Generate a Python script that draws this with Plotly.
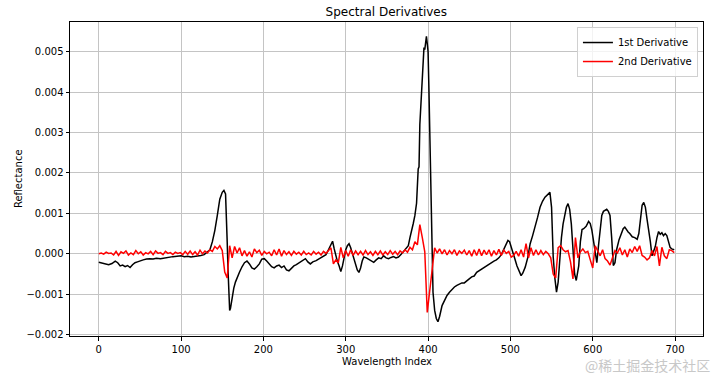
import plotly.graph_objects as go

# ---------------- data ----------------
first_idx = [0, 4, 8, 12, 16, 20, 23, 26, 29, 32, 35, 38, 41, 44, 47, 50, 54, 58, 62, 66,
             70, 75, 80, 85, 90, 95, 100, 104, 108, 112, 116, 120, 124, 128, 132, 135, 138, 141, 144, 147,
             150, 152, 154, 155, 156, 157, 158, 159, 160, 162, 164, 166, 168, 171, 174, 177, 180, 183, 186, 189,
             192, 195, 198, 201, 204, 207, 210, 213, 216, 219, 222, 225, 228, 231, 234, 237, 240, 244, 248, 251,
             254, 257, 260, 264, 268, 272, 276, 279, 282, 284, 286, 288, 290, 292, 294, 296, 298, 300, 302, 304,
             306, 308, 311, 314, 316, 318, 320, 322, 325, 328, 331, 334, 337, 340, 343, 346, 349, 352, 355, 358,
             361, 364, 367, 370, 373, 376, 378, 380, 382, 384, 386, 388, 389, 390, 392, 394, 395, 396, 397, 398,
             399, 400, 401, 402, 403, 404, 405, 406, 408, 410, 412, 414, 417, 420, 423, 426, 429, 432, 435, 438,
             441, 444, 447, 450, 453, 456, 459, 462, 465, 468, 471, 474, 477, 480, 483, 486, 489, 492, 495, 497,
             499, 501, 503, 505, 508, 511, 513, 515, 518, 521, 524, 527, 530, 533, 536, 539, 542, 545, 548, 550,
             551, 552, 554, 556, 558, 560, 562, 564, 566, 568, 570, 572, 574, 576, 578, 580, 581, 583, 585, 587,
             589, 592, 595, 597, 599, 601, 603, 605, 607, 609, 611, 613, 615, 617, 619, 621, 623, 625, 627, 629,
             632, 635, 637, 639, 641, 643, 645, 648, 651, 654, 656, 658, 660, 662, 664, 666, 668, 670, 672, 674,
             676, 678, 680, 682, 684, 686, 688, 690, 692, 694, 696, 699]
first_deriv = [-0.00021, -0.00023, -0.00025, -0.00027, -0.00024, -0.00018, -0.00022, -0.00030, -0.00028, -0.00032,
               -0.00029, -0.00034, -0.00027, -0.00022, -0.00020, -0.00017, -0.00015, -0.00013, -0.00012, -0.00013,
               -0.00011, -0.00012, -0.00010, -0.00009, -0.00007, -0.00006, -0.00005, -0.00007, -0.00006, -0.00008,
               -0.00007, -0.00006, -0.00004, -0.00002, 0.00004, 0.00010, 0.00030, 0.00058, 0.00095, 0.00135,
               0.00152, 0.00157, 0.00148, 0.00100, 0.00030, -0.00040, -0.00100, -0.00140, -0.00135, -0.00105,
               -0.00085, -0.00070, -0.00058, -0.00045, -0.00032, -0.00022, -0.00018, -0.00025, -0.00035, -0.00038,
               -0.00032, -0.00025, -0.00013, -0.00012, -0.00018, -0.00024, -0.00032, -0.00035, -0.00030, -0.00028,
               -0.00034, -0.00030, -0.00040, -0.00042, -0.00036, -0.00030, -0.00027, -0.00022, -0.00015, -0.00012,
               -0.00020, -0.00025, -0.00020, -0.00017, -0.00012, -0.00007, -0.00002, 0.00010, 0.00025, 0.00031,
               0.00012, -0.00008, -0.00020, -0.00030, -0.00044, -0.00030, -0.00008, 0.00010, 0.00020, 0.00025,
               0.00015, 0.00000, -0.00020, -0.00040, -0.00046, -0.00035, -0.00018, -0.00008, -0.00010, -0.00013,
               -0.00018, -0.00021, -0.00015, -0.00010, -0.00012, -0.00005, -0.00010, -0.00012, -0.00009, -0.00007,
               -0.00010, -0.00008, -0.00002, 0.00006, 0.00012, 0.00020, 0.00040, 0.00055, 0.00075, 0.00095,
               0.00125, 0.00210, 0.00215, 0.00320, 0.00410, 0.00470, 0.00510, 0.00505, 0.00520, 0.00538,
               0.00520, 0.00500, 0.00410, 0.00320, 0.00180, 0.00070, -0.00020, -0.00095, -0.00140, -0.00160,
               -0.00168, -0.00155, -0.00128, -0.00115, -0.00103, -0.00095, -0.00088, -0.00082, -0.00078, -0.00075,
               -0.00072, -0.00072, -0.00066, -0.00062, -0.00057, -0.00055, -0.00046, -0.00042, -0.00037, -0.00032,
               -0.00028, -0.00025, -0.00022, -0.00018, -0.00015, -0.00010, -0.00002, 0.00010, 0.00025, 0.00033,
               0.00030, 0.00018, 0.00005, -0.00010, -0.00030, -0.00045, -0.00054, -0.00048, -0.00033, -0.00010,
               0.00025, 0.00045, 0.00066, 0.00090, 0.00115, 0.00130, 0.00140, 0.00145, 0.00152, 0.00115,
               0.00060, -0.00008, -0.00060, -0.00095, -0.00070, -0.00008, 0.00040, 0.00074, 0.00100, 0.00115,
               0.00124, 0.00110, 0.00074, 0.00020, -0.00050, -0.00066, -0.00050, -0.00030, 0.00030, 0.00060,
               0.00062, 0.00068, 0.00080, 0.00075, 0.00058, 0.00030, 0.00000, -0.00022, 0.00020, 0.00060,
               0.00095, 0.00105, 0.00108, 0.00110, 0.00105, 0.00095, 0.00040, -0.00029, -0.00022, 0.00010,
               0.00035, 0.00050, 0.00062, 0.00066, 0.00058, 0.00054, 0.00050, 0.00042, 0.00040, 0.00036,
               0.00050, 0.00090, 0.00120, 0.00127, 0.00115, 0.00085, 0.00060, 0.00030, -0.00005, 0.00005,
               0.00018, 0.00040, 0.00055, 0.00048, 0.00052, 0.00045, 0.00050, 0.00045, 0.00030, 0.00016,
               0.00012, 0.00010]

second_idx = list(range(0, 700, 3))
second_deriv = [
    0.00000, 0.00002, -0.00001, 0.00004, 0.00001, 0.00002, -0.00003, 0.00006, -0.00004, 0.00005,
    0.00001, 0.00007, -0.00003, 0.00002, -0.00002, 0.00008, 0.00000, 0.00005, -0.00003, 0.00003,
    0.00000, 0.00006, -0.00002, 0.00007, 0.00001, 0.00003, -0.00002, 0.00006, 0.00001, 0.00003,
    -0.00002, 0.00004, 0.00001, 0.00003, -0.00002, 0.00006, -0.00001, 0.00007, -0.00002, 0.00005,
    -0.00003, 0.00009, 0.00000, 0.00007, 0.00002, 0.00010, 0.00006, 0.00018, 0.00012, 0.00020,
    0.00008, -0.00045, -0.00060, 0.00020, -0.00010, 0.00018, 0.00002, 0.00015, -0.00005, 0.00008,
    -0.00006, 0.00005, -0.00008, 0.00012, 0.00003, 0.00009, -0.00004, 0.00006, 0.00000, 0.00004,
    -0.00005, 0.00010, -0.00003, 0.00012, -0.00006, 0.00008, -0.00002, 0.00005, -0.00004, 0.00006,
    -0.00001, 0.00004, -0.00003, 0.00006, -0.00002, 0.00002, -0.00003, 0.00006, -0.00001, 0.00004,
    -0.00003, 0.00006, 0.00001, 0.00008, 0.00015, -0.00025, -0.00015, -0.00022, 0.00016, -0.00010,
    0.00008, -0.00006, 0.00010, -0.00004, 0.00007, -0.00002, 0.00006, -0.00003, 0.00008, -0.00002,
    0.00005, -0.00004, 0.00006, -0.00002, 0.00007, -0.00003, 0.00005, -0.00002, 0.00008, -0.00001,
    0.00006, -0.00002, 0.00007, 0.00002, 0.00010, 0.00004, 0.00016, 0.00010, 0.00030, 0.00022,
    0.00072, 0.00040, 0.00005, -0.00145, -0.00095, -0.00030, 0.00015, 0.00002, 0.00012, 0.00000,
    0.00010, -0.00003, 0.00008, 0.00000, 0.00010, -0.00004, 0.00007, 0.00001, 0.00009, -0.00003,
    0.00008, -0.00006, 0.00010, -0.00004, 0.00012, -0.00005, 0.00009, -0.00002, 0.00010, -0.00006,
    0.00008, -0.00003, 0.00011, -0.00004, 0.00009, 0.00001, 0.00006, -0.00008, -0.00004, 0.00006,
    -0.00006, 0.00010, -0.00008, 0.00025, -0.00010, 0.00015, -0.00004, 0.00010, -0.00003, 0.00008,
    -0.00002, 0.00006, 0.00000, -0.00010, -0.00050, -0.00060, 0.00015, 0.00020, 0.00010, 0.00005,
    0.00008, -0.00020, -0.00062, 0.00040, -0.00010, 0.00005, 0.00012, 0.00003, 0.00006, -0.00015,
    -0.00035, 0.00020, 0.00008, -0.00005, 0.00010, -0.00012, -0.00018, -0.00028, -0.00010, 0.00008,
    0.00002, 0.00015, -0.00003, 0.00010, -0.00008, 0.00012, 0.00003, 0.00018, 0.00006, 0.00020,
    -0.00004, -0.00008, -0.00015, -0.00010, 0.00008, -0.00005, 0.00018, -0.00030, 0.00016, -0.00005,
    -0.00012, 0.00010, 0.00008, 0.00003]

x_ticks = [0, 100, 200, 300, 400, 500, 600, 700]
y_ticks = [-0.002, -0.001, 0.000, 0.001, 0.002, 0.003, 0.004, 0.005]

assert len(first_idx) == len(first_deriv)
assert len(second_idx) == len(second_deriv)

# ---------------- figure ----------------
FONT = "DejaVu Sans, Liberation Sans, sans-serif"

all_y = first_deriv + second_deriv
ymin, ymax = min(all_y), max(all_y)
yr = ymax - ymin
xmin, xmax = 0, 699
xr = xmax - xmin

fig = go.Figure()
fig.add_trace(go.Scatter(x=first_idx, y=first_deriv, mode="lines", name="1st Derivative",
                         line=dict(color="black", width=1.5)))
fig.add_trace(go.Scatter(x=second_idx, y=second_deriv, mode="lines", name="2nd Derivative",
                         line=dict(color="red", width=1.5)))

axis_common = dict(showline=True, linecolor="black", linewidth=1, mirror=True,
                   ticks="outside", ticklen=3.5, tickwidth=1, tickcolor="black",
                   showgrid=True, gridcolor="#c4c4c4", gridwidth=1, zeroline=False,
                   automargin=False,
                   tickfont=dict(family=FONT, size=10, color="black"))

fig.update_xaxes(range=[xmin - 0.05 * xr, xmax + 0.05 * xr], tickvals=x_ticks, **axis_common)
fig.update_yaxes(range=[ymin - 0.05 * yr, ymax + 0.05 * yr], tickvals=y_ticks, tickformat=".3f",
                 **axis_common)

fig.update_layout(
    width=720, height=378,
    margin=dict(l=70, r=17, t=22, b=42),
    paper_bgcolor="white", plot_bgcolor="white",
    title=dict(text="Spectral Derivatives", x=0.5365, xanchor="center", y=1 - 12 / 378, yanchor="middle",
               font=dict(family=FONT, size=12, color="black")),
    showlegend=True,
    legend=dict(x=0.992, y=0.984, xanchor="right", yanchor="top",
                bgcolor="rgba(255,255,255,0.8)", bordercolor="#d0d0d0", borderwidth=1,
                font=dict(family=FONT, size=10, color="black"), itemwidth=30,
                tracegroupgap=0),
    font=dict(family=FONT),
)

# axis titles placed like matplotlib's
fig.add_annotation(text="Wavelength Index", xref="paper", yref="paper", x=0.5, y=-0.081,
                   xanchor="center", yanchor="middle", showarrow=False,
                   font=dict(family=FONT, size=10, color="black"))
fig.add_annotation(text="Reflectance", xref="paper", yref="paper", x=-0.082, y=0.5,
                   xanchor="center", yanchor="middle", textangle=-90, showarrow=False,
                   font=dict(family=FONT, size=10, color="black"))

fig.add_annotation(text="@稀土掘金技术社区", xref="paper", yref="paper",
                   x=1.015, y=-0.092, xanchor="right", yanchor="middle", showarrow=False,
                   font=dict(family="Noto Sans CJK SC", size=14, color="#c8c8c8"))

# remove the default 8px page margin so the figure sits at the window's top-left corner
fig.write_html("out.html", config={"displayModeBar": False},
               post_script="document.body.style.margin='0';")
